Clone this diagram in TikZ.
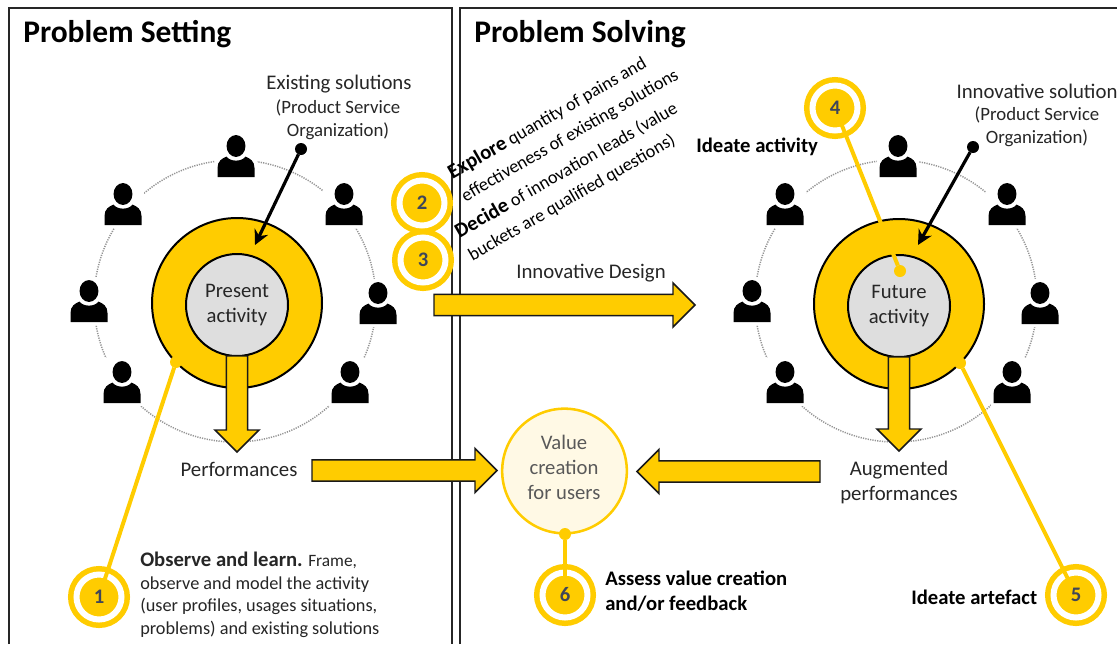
\documentclass[tikz,border=0pt]{standalone}
\usepackage{fontspec}
\setmainfont{Carlito}
\usetikzlibrary{calc,arrows.meta}
\definecolor{gold}{HTML}{FFCC00}
\definecolor{paleyellow}{HTML}{FFF9E5}
\definecolor{innergrey}{HTML}{DEDEDE}
\definecolor{txt}{HTML}{262626}
\definecolor{numcol}{HTML}{3F4659}
\newcommand{\blockarrow}[2]{%
  \coordinate (hb) at ($(#2)!16.5pt!(#1)$);
  \draw[bigarrow] ($(#1)!8pt!90:(#2)$) -- ($(hb)!8pt!90:(#2)$) -- ($(hb)!16.5pt!90:(#2)$) -- (#2)
    -- ($(hb)!16.5pt!-90:(#2)$) -- ($(hb)!8pt!-90:(#2)$) -- ($(#1)!8pt!-90:(#2)$) -- cycle;}
\tikzset{
  panel/.style={draw=black!85,line width=1.1pt},
  bigarrow/.style={draw=black!90,fill=gold,line width=1.1pt,line join=miter},
  outerdisc/.style={circle,draw=black,fill=gold,line width=1.5pt,minimum size=127.5pt,inner sep=0pt,outer sep=0pt},
  innerdisc/.style={circle,draw=black,fill=innergrey,line width=1.5pt,minimum size=76.5pt,inner sep=0pt,outer sep=0pt,align=center,text=txt,font=\fontsize{15.5}{18.75}\selectfont},
  orbit/.style={circle,draw=black!42,line width=1.1pt,dash pattern=on 0.9pt off 0.9pt,minimum size=211.5pt,inner sep=0pt},
  numring/.style={circle,preaction={draw=gold,line width=12.75pt},fill=gold,draw=white,line width=4.5pt,minimum size=33.75pt,inner sep=0pt,outer sep=0pt,text=numcol,font=\fontsize{15.5}{15.5}\selectfont\bfseries},
  yline/.style={draw=gold,line width=3pt},
  ydot/.style={circle,fill=gold,minimum size=9pt,inner sep=0pt,outer sep=0pt},
  kdot/.style={circle,fill=black,minimum size=9pt,inner sep=0pt,outer sep=0pt},
  karrow/.style={draw=black,line width=2.4pt,-{Stealth[length=11pt,width=11pt]}},
  label/.style={text=txt,font=\fontsize{15.6}{18.75}\selectfont,align=center,inner sep=0pt},
  small/.style={text=txt,font=\fontsize{14.1}{17}\selectfont,align=center,inner sep=0pt},
  strong/.style={text=black,font=\fontsize{15.5}{18.75}\selectfont\bfseries,align=left,inner sep=0pt},
  heading/.style={text=black,font=\fontsize{23.6}{28}\selectfont\bfseries,inner sep=0pt},
  slanted/.style={text=black,font=\fontsize{13.7}{19.5}\selectfont,align=left,inner sep=0pt,rotate=30},
  person/.pic={
    \fill[white] (-21,-3) rectangle (21,45);
    \fill[black] (0,11) ellipse [x radius=7.1pt,y radius=8.2pt];
    \fill[black] (-18.5,42) -- (-18.5,33) .. controls (-18.5,26) and (-14,23.5) .. (-9.5,21.5)
      .. controls (-6,27) and (6,27) .. (9.5,21.5) .. controls (14,23.5) and (18.5,26) .. (18.5,33)
      -- (18.5,42) -- cycle;
  }
}
\begin{document}
\begin{tikzpicture}[x=0.75pt,y=-0.75pt]
\useasboundingbox (0,0) rectangle (1117,644);
\fill[white] (0,0) rectangle (1117,644);
% panels
\draw[panel] (9,644) -- (9,8) -- (452,8) -- (452,644);
\draw[panel] (460,644) -- (460,8) -- (1117,8);
\node[heading,anchor=base west] (h1) at (23,42) {Problem Setting};
\node[heading,anchor=base west] (h2) at (474,42) {Problem Solving};
% orbits
\node[orbit] (orbL) at (235,301) {};
\node[orbit] (orbR) at (896,301) {};
% persons
\pic (pa) at (236,135) {person};
\pic (pb) at (123,183) {person};
\pic (pc) at (344,183) {person};
\pic (pd) at (89,280) {person};
\pic (pe) at (378,282) {person};
\pic (pf) at (122,361) {person};
\pic (pg) at (350,361) {person};
\pic (qa) at (898,135) {person};
\pic (qb) at (785,183) {person};
\pic (qc) at (1007,183) {person};
\pic (qd) at (752,280) {person};
\pic (qe) at (1040,282) {person};
\pic (qf) at (785,361) {person};
\pic (qg) at (1012,361) {person};
% discs
\node[outerdisc] (outL) at (237,303) {};
\node[innerdisc] (inL) at (237,305) {Present\\activity};
\node[outerdisc] (outR) at (899,304) {};
\node[innerdisc] (inR) at (899,306) {Future\\activity};
% value
\node[circle,draw=gold,fill=paleyellow,line width=1.9pt,minimum size=93.5pt,inner sep=0pt] (val) at (564.5,471) {};
\node[inner sep=0pt,align=center,text=black!65,font=\fontsize{15.5}{18.75}\selectfont] (valt) at (564,467) {Value\\creation\\for users};
% block arrows
\coordinate (dl) at (237,452);
\coordinate (dr) at (899,451);
\coordinate (ids) at (434,305);
\coordinate (ide) at (695,305);
\coordinate (pfs) at (312,470.5);
\coordinate (pfe) at (497,470.5);
\coordinate (aus) at (820,471.5);
\coordinate (aue) at (637,471.5);
\blockarrow{inL.south}{dl}
\blockarrow{inR.south}{dr}
\blockarrow{ids}{ide}
\blockarrow{pfs}{pfe}
\blockarrow{aus}{aue}
% black pointers
\node[kdot] (kl) at (301,149) {};
\coordinate (kle) at (255,245);
\draw[karrow] (kl) -- (kle);
\node[kdot] (kr) at (973,147) {};
\coordinate (kre) at (918,245);
\draw[karrow] (kr) -- (kre);
% numbered rings
\node[numring] (r1) at (99,597) {1};
\node[numring] (r2) at (422,203) {2};
\node[numring] (r3) at (423,260) {3};
\node[numring] (r4) at (835,108) {4};
\node[numring] (r5) at (1076,595) {5};
\node[numring] (r6) at (565,595) {6};
\node[ydot] (d1) at (176,362) {};
\node[ydot] (d4) at (900,271) {};
\node[ydot] (d5) at (960,363) {};
\node[ydot] (d6) at (565,534) {};
\draw[yline,shorten <=-3pt] (r1) -- (d1);
\draw[yline,shorten <=-3pt] (r4) -- (d4);
\draw[yline,shorten <=-3pt] (r5) -- (d5);
\draw[yline,shorten <=-3pt] (r6) -- (d6);
% labels
\node[label] (t1) at (339,84) {Existing solutions};
\node[small] (t2) at (338,120) {(Product Service\\Organization)};
\node[label] (t3) at (1037,91) {Innovative solution};
\node[small] (t4) at (1037,127) {(Product Service\\Organization)};
\node[label] (t5) at (591,273) {Innovative Design};
\node[label] (t6) at (239,469) {Performances};
\node[label] (t7) at (899,482.5) {Augmented\\performances};
\node[strong,anchor=west] (t8) at (696,147) {Ideate activity};
\node[strong,anchor=west] (t9) at (911,597) {Ideate artefact};
\node[strong,anchor=west] (t10) at (605,591.5) {Assess value creation\\and/or feedback};
\node[text=txt,font=\fontsize{13.7}{16.9}\selectfont,align=left,inner sep=0pt,anchor=north west] (t11) at (140,552) {{\fontsize{15.5}{16.9}\selectfont\bfseries Observe and learn.} {\fontsize{13}{16.9}\selectfont Frame,}\\observe and model the activity\\(user profiles, usages situations,\\problems) and existing solutions};
\node[slanted,anchor=west] (t12) at (456,186) {{\fontsize{15.5}{19.5}\selectfont\bfseries Explore} quantity of pains and\\effectiveness of existing solutions};
\node[slanted,anchor=west] (t13) at (463,245) {{\fontsize{15.5}{19.5}\selectfont\bfseries Decide} of innovation leads (value\\buckets are qualified questions)};
\end{tikzpicture}
\end{document}
